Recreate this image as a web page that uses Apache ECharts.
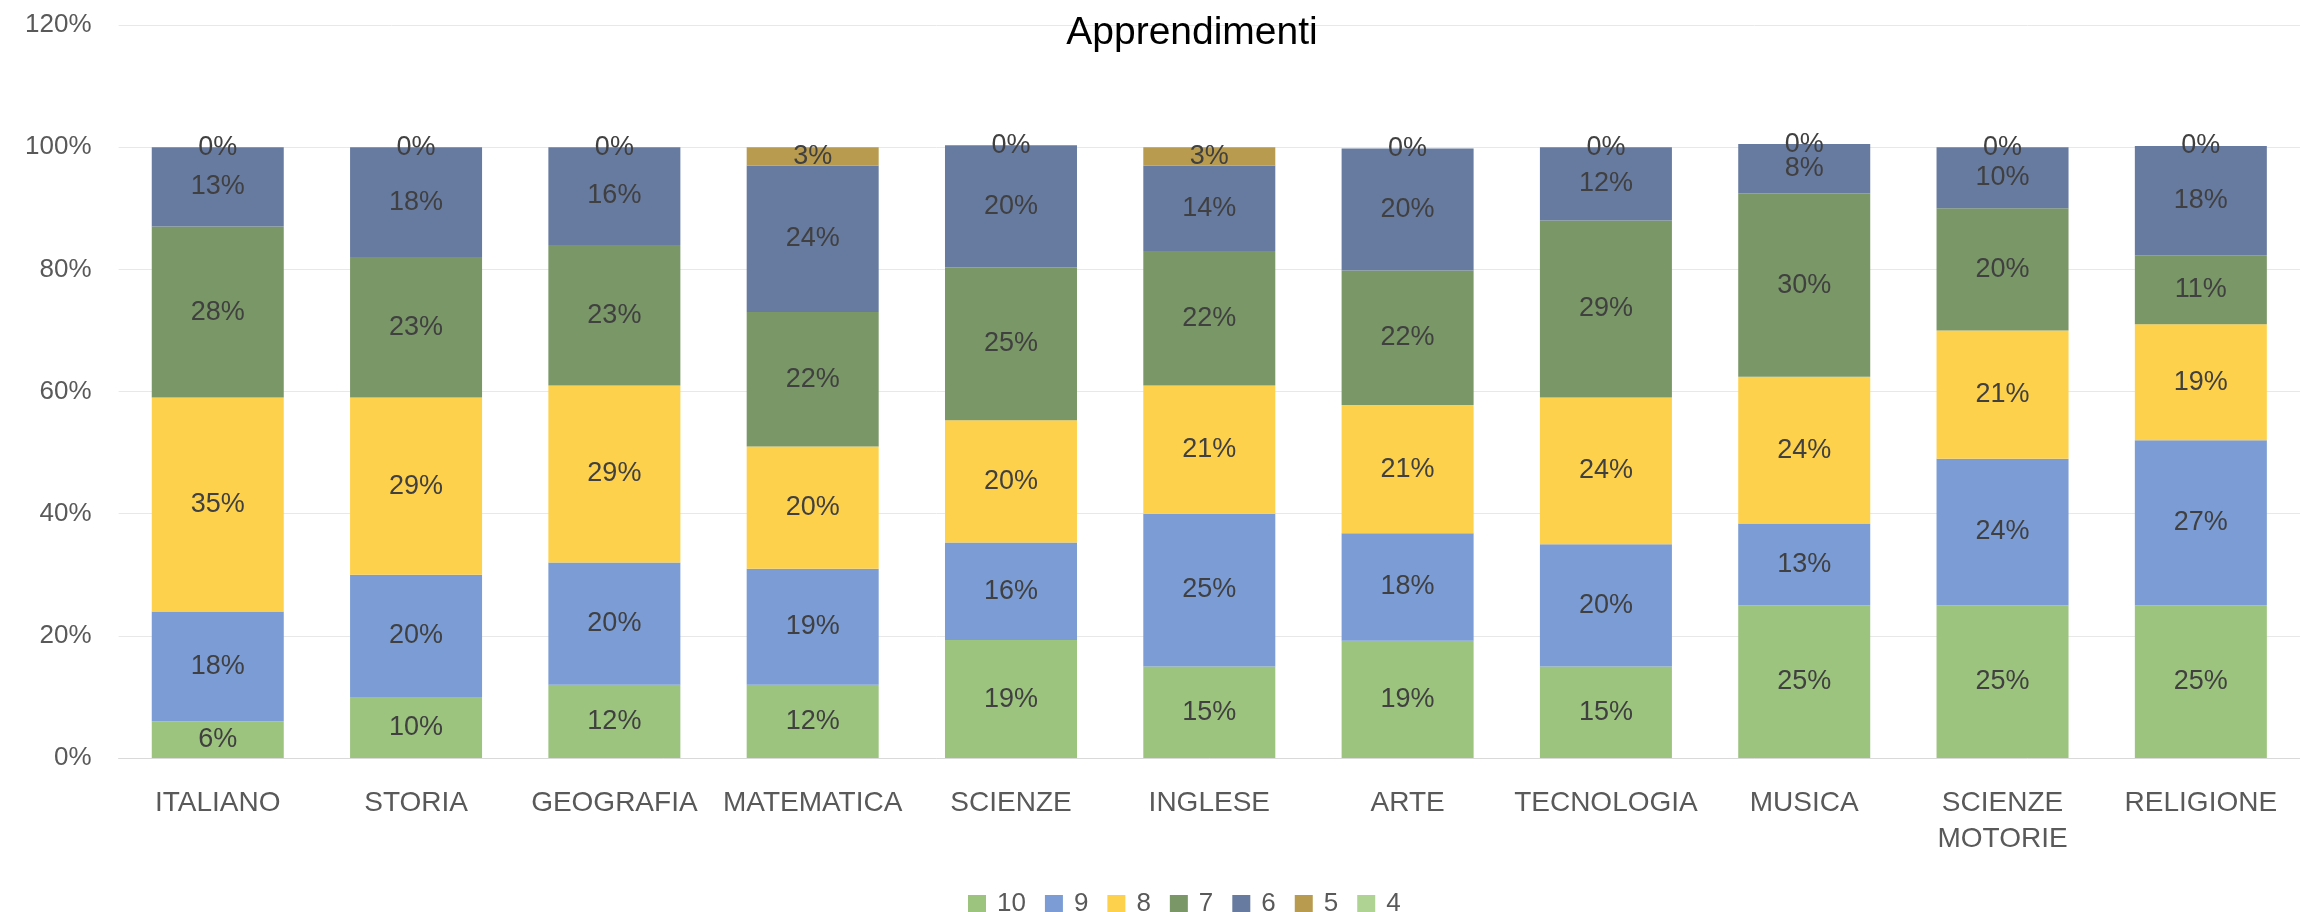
<!DOCTYPE html>
<html>
<head>
<meta charset="utf-8">
<script src="https://cdn.jsdelivr.net/npm/echarts@6/dist/echarts.min.js"></script>
<style>
  html, body { margin: 0; padding: 0; background: #ffffff; }
  #chart { width: 2300px; height: 912px; }
</style>
</head>
<body>
<div id="chart"></div>
<script>
const categories = ['ITALIANO', 'STORIA', 'GEOGRAFIA', 'MATEMATICA', 'SCIENZE', 'INGLESE', 'ARTE', 'TECNOLOGIA', 'MUSICA', 'SCIENZE\nMOTORIE', 'RELIGIONE'];
const seriesNames = ['10', '9', '8', '7', '6', '5', '4'];
const v10 = [6, 10, 12, 12, 19.3, 15, 19.2, 15, 25, 25, 25];
const v9  = [18, 20, 20, 19, 16, 25, 17.6, 20, 13.4, 24, 27];
const v8  = [35, 29, 29, 20, 20, 21, 21, 24, 24, 21, 19];
const v7  = [28, 23, 23, 22, 25, 22, 22, 29, 30, 20, 11.3];
const v6  = [13, 18, 16, 24, 20, 14, 20, 12, 8.1, 10, 17.9];
const v5  = [0, 0, 0, 3, 0, 3, 0, 0, 0, 0, 0];
const v4  = [null, null, null, null, null, null, null, null, null, null, null];
const yTicks = [0, 20, 40, 60, 80, 100, 120];

const colors = ['#9CC47E', '#7B9CD4', '#FED14C', '#7A9767', '#677BA0', '#B89B4E', '#AFD393'];
const allValues = [v10, v9, v8, v7, v6, v5, v4];
const FONT = "'Liberation Sans', Arial, sans-serif";

const chart = echarts.init(document.getElementById('chart'), null, { renderer: 'canvas' });

const series = seriesNames.map((name, i) => ({
  name: name,
  type: 'bar',
  stack: 'total',
  barWidth: 132,
  data: allValues[i],
  itemStyle: { color: colors[i] },
  label: {
    show: i < 6,
    position: 'inside',
    color: '#404040',
    fontSize: 27,
    fontFamily: FONT,
    formatter: p => (p.value == null ? '' : Math.round(p.value) + '%')
  },
  labelLayout: { hideOverlap: false }
}));

chart.setOption({
  animation: false,
  backgroundColor: '#ffffff',
  color: colors,
  title: {
    text: 'Apprendimenti',
    left: 1187,
    textAlign: 'center',
    top: 9,
    textStyle: { color: '#000000', fontSize: 39, fontWeight: 'normal', fontFamily: FONT }
  },
  legend: {
    data: seriesNames,
    left: 963,
    top: 886,
    itemWidth: 18,
    itemHeight: 18,
    itemGap: 19,
    icon: 'rect',
    textStyle: { color: '#595959', fontSize: 26, fontFamily: FONT, padding: [0, 0, 0, 6] }
  },
  grid: {
    left: 118.6,
    width: 2200,
    top: 25,
    bottom: 154,
    containLabel: false
  },
  xAxis: {
    type: 'category',
    data: categories,
    axisTick: { show: false },
    axisLine: { lineStyle: { color: '#d9d9d9', width: 1 } },
    axisLabel: {
      color: '#595959',
      fontSize: 28,
      fontFamily: FONT,
      margin: 27,
      lineHeight: 36,
      interval: 0
    }
  },
  yAxis: {
    type: 'value',
    min: yTicks[0],
    max: yTicks[yTicks.length - 1],
    interval: 20,
    axisLine: { show: false },
    axisTick: { show: false },
    splitLine: { lineStyle: { color: '#e8e8e8', width: 1 } },
    axisLabel: {
      color: '#595959',
      fontSize: 26,
      fontFamily: FONT,
      margin: 27,
      formatter: '{value}%'
    }
  },
  series: series
});
</script>
</body>
</html>
